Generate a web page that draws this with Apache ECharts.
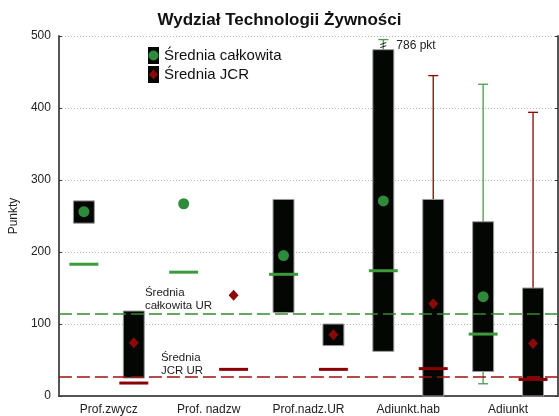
<!DOCTYPE html>
<html>
<head>
<meta charset="utf-8">
<script src="https://cdn.jsdelivr.net/npm/echarts@6/dist/echarts.min.js"></script>
<style>
  html, body { margin: 0; padding: 0; background: #fff; }
  #chart { width: 559px; height: 416px; }
</style>
</head>
<body>
<div id="chart"></div>
<script>
// dane
const categories = ["Prof.zwycz", "Prof. nadzw", "Prof.nadz.UR", "Adiunkt.hab", "Adiunkt"];
const totalBoxLow = [240, null, 116, 62, 34];
const totalBoxHigh = [271, null, 273, 481, 242];
const totalMean = [256, 267, 195, 271, 138];
const totalMedian = [183, 172, 169, 174, 86];
const totalMin = [null, null, null, null, 17];
const totalMax = [null, null, null, 786, 433];
const jcrBoxLow = [25, null, 70, 0, 0];
const jcrBoxHigh = [118, null, 100, 273, 150];
const jcrMean = [74, 140, 85, 128, 73];
const jcrMedian = [18, 37, 37, 38, 23];
const jcrMin = [null, null, null, null, null];
const jcrMax = [null, null, null, 445, 394];
const urTotalMean = 114.5;
const urJcrMean = 27;
const yMin = 0, yMax = 500, yStep = 100;

const GREEN = "#2e8b3c";
const GREEN_LINE = "#3c9a3c";
const RED = "#8b0a0a";
const FONT = "Liberation Sans, Arial, sans-serif";

const boxHalf = 0.21, medianHalf = 0.29, capHalf = 0.1;

// pozycja na osi 0..10: dwa miejsca na grupę
const slot = (i, k) => 2 * i + k + 0.5;

function buildBoxes(lo, hi, k) {
  const out = [];
  lo.forEach((v, i) => {
    if (v != null && hi[i] != null) out.push([slot(i, k), v, hi[i]]);
  });
  return out;
}
function buildWhiskers(min, max, lo, hi, k, color) {
  const out = [];
  min.forEach((v, i) => {
    if (v == null && max[i] == null) return;
    const a = v != null ? v : lo[i];
    const b = max[i] != null ? max[i] : hi[i];
    out.push({ value: [slot(i, k), a, b, v != null ? 1 : 0, max[i] != null ? 1 : 0], itemStyle: { color: color } });
  });
  return out;
}
function buildMedians(arr, k, color) {
  return arr.map((v, i) => ({ value: [slot(i, k), v], itemStyle: { color: color } }));
}

function renderBox(params, api) {
  const x = api.value(0);
  const p1 = api.coord([x - boxHalf, api.value(2)]);
  const p2 = api.coord([x + boxHalf, api.value(1)]);
  return {
    type: "rect",
    shape: { x: p1[0], y: p1[1], width: p2[0] - p1[0], height: p2[1] - p1[1] },
    style: { fill: "#040604", stroke: "#9a9a9a", lineWidth: 1 }
  };
}

function renderWhisker(params, api) {
  const x = api.value(0), lo = api.value(1), hi = api.value(2);
  const color = api.visual("color");
  const broken = hi > yMax;
  const top = broken ? yMax - 5 : hi;
  const pLo = api.coord([x, lo]);
  const pHi = api.coord([x, top]);
  const half = api.size([capHalf, 0])[0];
  const children = [{
    type: "line",
    shape: { x1: pLo[0], y1: pLo[1], x2: pHi[0], y2: pHi[1] },
    style: { stroke: color, lineWidth: 1.3 }
  }];
  if (api.value(3)) {
    children.push({ type: "line", shape: { x1: pLo[0] - half, y1: pLo[1], x2: pLo[0] + half, y2: pLo[1] }, style: { stroke: color, lineWidth: 1.3 } });
  }
  if (api.value(4)) {
    children.push({ type: "line", shape: { x1: pHi[0] - half, y1: pHi[1], x2: pHi[0] + half, y2: pHi[1] }, style: { stroke: color, lineWidth: 1.3 } });
  }
  if (broken) {
    // znak przerwania osi i opis wartości
    children.push({ type: "line", shape: { x1: pHi[0] - 3, y1: pHi[1] + 5, x2: pHi[0] + 3, y2: pHi[1] + 3 }, style: { stroke: "#222", lineWidth: 1 } });
    children.push({ type: "line", shape: { x1: pHi[0] - 3, y1: pHi[1] + 8, x2: pHi[0] + 3, y2: pHi[1] + 6 }, style: { stroke: "#222", lineWidth: 1 } });
    children.push({
      type: "text",
      style: { text: hi + " pkt", x: pHi[0] + 13, y: pHi[1] + 6, fill: "#222", font: "12px " + FONT, textVerticalAlign: "middle" }
    });
  }
  return { type: "group", children: children };
}

function renderMedian(params, api) {
  const x = api.value(0), v = api.value(1);
  const a = api.coord([x - medianHalf, v]);
  const b = api.coord([x + medianHalf, v]);
  return {
    type: "line",
    shape: { x1: a[0], y1: a[1], x2: b[0], y2: b[1] },
    style: { stroke: api.visual("color"), lineWidth: 3 }
  };
}

const iconTotal = "image://data:image/svg+xml;utf8," + encodeURIComponent(
  '<svg xmlns="http://www.w3.org/2000/svg" width="11" height="17"><rect width="11" height="17" fill="#040604"/><circle cx="5.5" cy="8.5" r="5" fill="' + GREEN + '"/></svg>');
const iconJcr = "image://data:image/svg+xml;utf8," + encodeURIComponent(
  '<svg xmlns="http://www.w3.org/2000/svg" width="11" height="17"><rect width="11" height="17" fill="#040604"/><polygon points="5.5,3.5 10,8.5 5.5,13.5 1,8.5" fill="' + RED + '"/></svg>');

const chart = echarts.init(document.getElementById("chart"), null, { renderer: "canvas" });

chart.setOption({
  animation: false,
  backgroundColor: "#fff",
  textStyle: { fontFamily: FONT },
  title: {
    text: "Wydział Technologii Żywności",
    left: "center",
    top: 7,
    textStyle: { fontSize: 17, fontWeight: "bold", color: "#111", fontFamily: FONT }
  },
  legend: {
    orient: "vertical",
    left: 148,
    top: 47,
    padding: 0,
    itemGap: 2,
    itemWidth: 11,
    itemHeight: 17,
    textStyle: { fontSize: 15, color: "#111", fontFamily: FONT },
    data: [
      { name: "Średnia całkowita", icon: iconTotal },
      { name: "Średnia JCR", icon: iconJcr }
    ]
  },
  grid: { left: 58, right: 1, top: 36, bottom: 20 },
  xAxis: [
    {
      type: "category",
      data: categories,
      position: "bottom",
      axisLine: { lineStyle: { color: "#555", width: 2 } },
      axisTick: { inside: true, alignWithLabel: true, length: 4, lineStyle: { color: "#333" } },
      axisLabel: { color: "#222", fontSize: 12, margin: 8, fontFamily: FONT },
      splitLine: { show: false }
    },
    {
      type: "category",
      data: categories,
      position: "top",
      axisLine: { lineStyle: { color: "#555", width: 2 } },
      axisTick: { inside: true, alignWithLabel: true, length: 4, lineStyle: { color: "#333" } },
      axisLabel: { show: false },
      splitLine: { show: false }
    },
    {
      type: "value",
      min: 0,
      max: categories.length * 2,
      show: false
    }
  ],
  yAxis: [
    {
      type: "value",
      min: yMin,
      max: yMax,
      interval: yStep,
      name: "Punkty",
      nameLocation: "middle",
      nameGap: 38,
      nameTextStyle: { fontSize: 12, color: "#222", fontFamily: "Liberation Sans Narrow, " + FONT },
      axisLine: { show: true, lineStyle: { color: "#555", width: 2 } },
      axisTick: { show: true, inside: true, length: 3, lineStyle: { color: "#333" } },
      axisLabel: { color: "#222", fontSize: 12, margin: 8, fontFamily: FONT },
      splitLine: { show: true, lineStyle: { color: "#b0b0b0", width: 1, type: [1, 2] } }
    },
    {
      type: "value",
      min: yMin,
      max: yMax,
      interval: yStep,
      position: "right",
      axisLine: { show: true, lineStyle: { color: "#555", width: 2 } },
      axisTick: { show: true, inside: true, length: 3, lineStyle: { color: "#333" } },
      axisLabel: { show: false },
      splitLine: { show: false }
    }
  ],
  series: [
    {
      type: "custom",
      name: "wąsy",
      xAxisIndex: 2,
      yAxisIndex: 0,
      z: 1,
      clip: false,
      renderItem: renderWhisker,
      data: buildWhiskers(totalMin, totalMax, totalBoxLow, totalBoxHigh, 0, "#4a9a4a")
        .concat(buildWhiskers(jcrMin, jcrMax, jcrBoxLow, jcrBoxHigh, 1, "#8b0000"))
    },
    {
      type: "custom",
      name: "pudełka",
      xAxisIndex: 2,
      yAxisIndex: 0,
      z: 2,
      renderItem: renderBox,
      data: buildBoxes(totalBoxLow, totalBoxHigh, 0).concat(buildBoxes(jcrBoxLow, jcrBoxHigh, 1))
    },
    {
      type: "custom",
      name: "mediany",
      xAxisIndex: 2,
      yAxisIndex: 0,
      z: 3,
      renderItem: renderMedian,
      data: buildMedians(totalMedian, 0, GREEN_LINE).concat(buildMedians(jcrMedian, 1, "#8b0000"))
    },
    {
      type: "scatter",
      name: "Średnia całkowita",
      xAxisIndex: 2,
      yAxisIndex: 0,
      z: 4,
      symbol: "circle",
      symbolSize: 11,
      itemStyle: { color: GREEN, opacity: 1 },
      data: totalMean.map((v, i) => [slot(i, 0), v]),
      markLine: {
        silent: true,
        symbol: ["none", "none"],
        z: 5,
        data: [
          {
            yAxis: urTotalMean,
            lineStyle: { color: "#2f8a2f", width: 1.5, type: [13, 5], opacity: 1 },
            label: {
              formatter: "Średnia\ncałkowita UR",
              position: "insideStartTop",
              distance: [86, 1],
              color: "#222",
              fontSize: 11.5,
              lineHeight: 13,
              fontFamily: FONT
            }
          },
          {
            yAxis: urJcrMean,
            lineStyle: { color: "#a01010", width: 1.5, type: [13, 5], opacity: 1 },
            label: {
              formatter: "Średnia\nJCR UR",
              position: "insideStartTop",
              distance: [102, -1],
              color: "#222",
              fontSize: 11.5,
              lineHeight: 13,
              fontFamily: FONT
            }
          }
        ]
      }
    },
    {
      type: "scatter",
      name: "Średnia JCR",
      xAxisIndex: 2,
      yAxisIndex: 0,
      z: 4,
      symbol: "diamond",
      symbolSize: [10, 11],
      itemStyle: { color: RED, opacity: 1 },
      data: jcrMean.map((v, i) => [slot(i, 1), v])
    }
  ]
});
</script>
</body>
</html>
